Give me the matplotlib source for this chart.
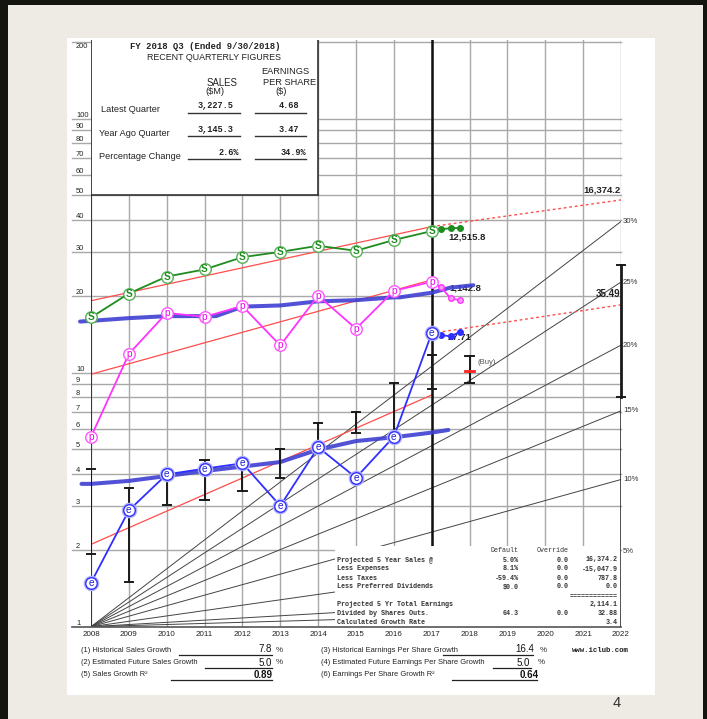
import matplotlib
matplotlib.use('Agg')
import matplotlib.pyplot as plt
from matplotlib.patches import Rectangle
from matplotlib.ticker import NullLocator

# ---------------- data ----------------
years = list(range(2008, 2018))
sales = [16.5, 20.5, 23.9, 25.5, 28.5, 29.9, 31.6, 30.2, 33.3, 36.1]
pretax = [5.59, 11.85, 17.2, 16.6, 18.3, 12.8, 20.1, 14.9, 21.0, 22.8]
eps = [1.49, 2.87, 3.98, 4.19, 4.40, 2.99, 5.09, 3.86, 5.6, 14.3]

q_x = [2017.25, 2017.5, 2017.75]
sales_q = [36.8, 37.0, 37.2]
pretax_q = [21.7, 19.6, 19.3]
eps_q = [14.07, 13.9, 14.5]

avg_hi_x = [2007.71, 2008, 2009, 2010, 2011.3, 2012, 2013, 2014, 2015, 2016, 2016.16, 2017, 2017.48, 2018.1]
avg_hi_y = [15.9, 16.0, 16.4, 16.7, 16.7, 18.2, 18.4, 19.1, 19.3, 19.8, 19.8, 20.65, 21.6, 22.1]
avg_lo_x = [2007.75, 2008, 2009, 2010, 2011, 2012, 2013, 2014, 2015, 2016, 2017, 2017.44]
avg_lo_y = [3.65, 3.65, 3.75, 3.92, 4.10, 4.27, 4.45, 4.98, 5.38, 5.57, 5.81, 5.95]

bar_years = list(range(2008, 2019))
price_hi = [4.18, 3.52, 4.05, 4.53, 4.55, 4.99, 6.36, 6.98, 9.13, 11.7, 11.67]
price_lo = [1.93, 1.50, 3.01, 3.15, 3.41, 3.84, 4.95, 5.80, 5.70, 8.6, 9.09]
current_price = 10.2
future_hi, future_lo = 26.5, 8.0

sales_trend = ([2008, 2017], [19.2, 37.6])
sales_proj = ([2017, 2022], [37.6, 47.9])
pretax_trend = ([2008, 2017], [9.86, 23.2])
eps_trend = ([2008, 2017], [2.11, 8.17])
eps_proj = ([2017, 2022], [14.3, 18.5])

fan_rates = [30, 25, 20, 15, 10, 5, 2, 1]
fan_labels = [30, 25, 20, 15, 10, 5]

ytick_vals = [1, 2, 3, 4, 5, 6, 7, 8, 9, 10, 20, 30, 40, 50, 60, 70, 80, 90, 100, 200]
xtick_vals = list(range(2008, 2023))

quarter_rows = [("Latest Quarter", "3,227.5", "4.68"),
                ("Year Ago Quarter", "3,145.3", "3.47"),
                ("Percentage Change", "2.6%", "34.9%")]

proj_rows = [("Projected 5 Year Sales @", "5.0%", "0.0", "16,374.2"),
             ("Less Expenses", "8.1%", "0.0", "-15,047.9"),
             ("Less Taxes", "-59.4%", "0.0", "787.8"),
             ("Less Preferred Dividends", "$0.0", "0.0", "0.0"),
             ("", "", "", "============"),
             ("Projected 5 Yr Total Earnings", "", "", "2,114.1"),
             ("Divided by Shares Outs.", "64.3", "0.0", "32.88"),
             ("Calculated Growth Rate", "", "", "3.4")]

# ---------------- fonts ----------------
SANS = ['Liberation Sans', 'DejaVu Sans']
MONO = ['Liberation Mono', 'DejaVu Sans Mono']

# ---------------- figure ----------------
W, H = 707, 719
fig = plt.figure(figsize=(W / 100, H / 100), dpi=100)
fig.patch.set_facecolor('#EEEBE4')


def rect(px0, py0, px1, py1, color):
    fig.patches.append(Rectangle((px0 / W, 1 - py1 / H), (px1 - px0) / W, (py1 - py0) / H,
                                 transform=fig.transFigure, facecolor=color,
                                 edgecolor='none', zorder=-1))


def ft(px, py, s, **kw):
    return fig.text(px / W, 1 - py / H, s, **kw)


rect(0, 0, W, 5, '#15150f')
rect(0, 0, 8, H, '#15150f')
rect(703, 0, W, H, '#15150f')
rect(67, 38, 655, 695, 'white')

Y0, PPD = 626.7, 254.0
PPY = 530 / 14
TOP = 10 ** ((Y0 - 40) / PPD)

ax = fig.add_axes([91 / W, 1 - Y0 / H, 530 / W, (Y0 - 40) / H])
ax.set_yscale('log')
ax.set_xlim(2008, 2022)
ax.set_ylim(1, TOP)
ax.patch.set_visible(False)
for s in ax.spines.values():
    s.set_visible(False)
ax.yaxis.set_major_locator(NullLocator())
ax.yaxis.set_minor_locator(NullLocator())
ax.set_xticks(xtick_vals, [str(v) for v in xtick_vals], fontfamily=SANS,
              fontsize=5.8, color='#222')
ax.tick_params(axis='x', length=0, pad=3)


def X(px):
    return 2008 + (px - 91) / PPY


def Yv(py):
    return 10 ** ((Y0 - py) / PPD)


GRID = '#a8a8a8'
for v in ytick_vals[1:]:
    ax.plot([X(72), 2022], [v, v], color=GRID, lw=1.0, zorder=1, clip_on=False)
ax.plot([X(72), 2022], [1, 1], color='#555', lw=1.2, zorder=8, clip_on=False)
for v in ytick_vals:
    if v == 200:
        ax.text(X(76), Yv(42.5), str(v), ha='left', va='top', fontsize=5.4,
                fontfamily=SANS, color='#222', clip_on=False)
    else:
        ax.text(X(76), v, str(v), ha='left', va='bottom', fontsize=5.4,
                fontfamily=SANS, color='#222', clip_on=False)
for yr in xtick_vals:
    ax.plot([yr, yr], [1, TOP], color=GRID, lw=1.0, zorder=1)
ax.plot([2008, 2008], [1, TOP], color='#222', lw=1.2, zorder=4.2)
ax.plot([2017, 2017], [Yv(546), TOP], color='#111', lw=1.8, zorder=3)

# fan lines
for r in fan_rates:
    ax.plot([2008, 2022], [1, (1 + r / 100) ** 14], color='#444', lw=0.7, zorder=2)
for r in fan_labels:
    ax.text(X(623), (1 + r / 100) ** 14, f"{r}%", ha='left', va='center',
            fontsize=5.6, fontfamily=SANS, color='#333', clip_on=False)

# red trend lines
RED = '#ff4d4d'
ax.plot(*sales_trend, color=RED, lw=0.9, zorder=2.5)
ax.plot(*pretax_trend, color=RED, lw=0.9, zorder=2.5)
ax.plot(*eps_trend, color=RED, lw=0.9, zorder=2.5)
ax.plot(*sales_proj, color=RED, lw=1.0, ls=(0, (2, 2)), zorder=2.5)
ax.plot(*eps_proj, color=RED, lw=1.0, ls=(0, (2, 2)), zorder=2.5)

# thick average lines
TB = '#3f3fd2'
ax.plot(avg_hi_x, avg_hi_y, color=TB, lw=2.9, alpha=0.9, zorder=3.5,
        solid_capstyle='round', clip_on=False)
ax.plot(avg_lo_x, avg_lo_y, color=TB, lw=2.9, alpha=0.9, zorder=3.5,
        solid_capstyle='round', clip_on=False)

# price bars
BK = '#1a1a1a'
cw = 0.11
for yr, hi, lo in zip(bar_years, price_hi, price_lo):
    ax.plot([yr, yr], [lo, hi], color=BK, lw=1.4, zorder=4.5)
    ax.plot([yr - cw, yr + cw], [hi, hi], color=BK, lw=1.4, zorder=4.5, clip_on=False)
    ax.plot([yr - cw, yr + cw], [lo, lo], color=BK, lw=1.4, zorder=4.5, clip_on=False)
ax.plot([2018 - 0.12, 2018 + 0.12], [current_price, current_price], color='#ff2020', lw=2, zorder=5)
ax.plot([2022, 2022], [1, future_lo], color='#222', lw=1.1, zorder=8)
ax.plot([2022, 2022], [future_lo, future_hi], color=BK, lw=2.0, zorder=8, clip_on=False)
for v in (future_lo, future_hi):
    ax.plot([2022 - cw, 2022 + cw], [v, v], color=BK, lw=1.4, zorder=8, clip_on=False)


def series(vals, qv, line_c, edge_c, letter, let_c, qfill, halo=None, bold=False):
    ax.plot(years, vals, color=line_c, lw=1.3, zorder=4)
    ax.plot([years[-1]] + q_x, [vals[-1]] + qv, color=line_c, lw=1.3, zorder=4,
            marker='o', ms=4, mfc=qfill, mec=line_c, mew=1, markevery=[1, 2, 3])
    if halo:
        ax.plot(years, vals, ls='none', marker='o', ms=9.6, mfc='white', mec=halo,
                mew=1.6, zorder=5, clip_on=False)
    ax.plot(years, vals, ls='none', marker='o', ms=8.3, mfc='white', mec=edge_c,
            mew=1.0, zorder=5, clip_on=False)
    for x, y in zip(years, vals):
        ax.text(x, y, letter, ha='center', va='center', fontsize=7.3, color=let_c,
                fontfamily=SANS, fontweight='bold' if bold else 'normal', zorder=6)


series(sales, sales_q, '#1e8c1e', '#55b055', 'S', '#1e8c1e', '#1e8c1e', bold=True)
series(pretax, pretax_q, '#ff33ff', '#ff55ff', 'p', '#f000f0', '#ff99ff')
series(eps, eps_q, '#2f2fff', '#3030ff', 'e', '#2020d0', '#2f2fff', halo='#b0b0ff')

# value labels
ax.text(X(448), Yv(237), "12,515.8", ha='left', va='center', fontsize=6.8,
        fontweight='bold', fontfamily=SANS, color='#222', zorder=3)
ax.text(X(449), Yv(288), "1,142.8", ha='left', va='center', fontsize=6.8,
        fontweight='bold', fontfamily=SANS, color='#222', zorder=3)
ax.text(X(448), Yv(338), "27.71", ha='left', va='center', fontsize=6.8,
        fontweight='bold', fontfamily=SANS, color='#222', zorder=3)
ax.text(X(620.5), Yv(190), "16,374.2", ha='right', va='center', fontsize=6.8,
        fontweight='bold', fontfamily=SANS, color='#222', zorder=9, clip_on=False)
ax.text(X(620.5), Yv(294), "35.49", ha='right', va='center', fontsize=7,
        fontweight='bold', fontfamily=SANS, color='#222', zorder=9, clip_on=False)
ax.text(X(477), Yv(362), "(Buy)", ha='left', va='center', fontsize=5.6,
        fontfamily=SANS, color='#555', zorder=6)

# ---------------- upper box ----------------
ax.add_patch(Rectangle((2008, 50), 6, TOP - 50, facecolor='white', edgecolor='none',
                       zorder=7, clip_on=False))
ax.plot([2008, 2014], [50, 50], color='#333', lw=1.2, zorder=7.5)
ax.plot([2014, 2014], [50, TOP], color='#333', lw=1.2, zorder=7.5)
ax.plot([2008, 2008], [50, TOP], color='#222', lw=1.2, zorder=7.5)

ft(205, 46.7, "FY 2018 Q3 (Ended 9/30/2018)", ha='center', va='center', fontsize=6.4,
   fontfamily=MONO, fontweight='bold', color='#222', zorder=10)
ft(214, 57.7, "RECENT QUARTERLY FIGURES", ha='center', va='center', fontsize=6.4,
   fontfamily=SANS, color='#222', zorder=10)
ft(285.5, 71.7, "EARNINGS", ha='center', va='center', fontsize=6.7, fontfamily=SANS, color='#222', zorder=10)
ft(290, 82.5, "PER SHARE", ha='center', va='center', fontsize=6.7, fontfamily=SANS, color='#222', zorder=10)
ft(281, 91.2, "($)", ha='center', va='center', fontsize=6.7, fontfamily=SANS, color='#222', zorder=10)
ft(221.7, 82.5, "SALES", ha='center', va='center', fontsize=6.9, fontfamily=SANS, color='#222', zorder=10)
ft(215, 91.2, "($M)", ha='center', va='center', fontsize=6.7, fontfamily=SANS, color='#222', zorder=10)

row_y = [109, 133.3, 156.7]
val_y = [105, 129, 152.3]
line_y = [112.7, 135.7, 159]
for (lab, sv, ev), ry, vy, ly in zip(quarter_rows, row_y, val_y, line_y):
    ft(101 if lab.startswith('L') else 99, ry, lab, ha='left', va='center', fontsize=6.6,
       fontfamily=SANS, color='#222', zorder=10)
    sx = 239 if sv.endswith('%') else 233.5
    ex = 306 if ev.endswith('%') else 299.5
    ft(sx, vy, sv, ha='right', va='center', fontsize=6.2, fontfamily=MONO,
       fontweight='bold', color='#222', zorder=10)
    ft(ex, vy, ev, ha='right', va='center', fontsize=6.2, fontfamily=MONO,
       fontweight='bold', color='#222', zorder=10)
    fig.lines.append(plt.Line2D([188 / W, 240 / W], [1 - ly / H] * 2, transform=fig.transFigure,
                                color='#333', lw=1.0, zorder=10))
    fig.lines.append(plt.Line2D([255 / W, 306 / W], [1 - ly / H] * 2, transform=fig.transFigure,
                                color='#333', lw=1.0, zorder=10))

# ---------------- lower box ----------------
ax.add_patch(Rectangle((X(335), 1), 2022 - X(335), Yv(546) - 1, facecolor='white',
                       edgecolor='none', zorder=7))
MS = 4.9
ft(518.7, 550.7, "Default", ha='right', va='center', fontsize=MS, fontfamily=MONO, color='#333', zorder=10)
ft(568.3, 550.7, "Override", ha='right', va='center', fontsize=MS, fontfamily=MONO, color='#333', zorder=10)
prow_y = [560, 569, 578, 587, 596, 604.7, 613.7, 623]
for (lab, d, o, v), y in zip(proj_rows, prow_y):
    kw = dict(va='center', fontsize=MS, fontfamily=MONO, fontweight='bold', color='#333', zorder=10)
    if lab:
        ft(336.7, y, lab, ha='left', **kw)
    if d:
        ft(518.7, y, d, ha='right', **kw)
    if o:
        ft(568.3, y, o, ha='right', **kw)
    ft(617.7, y, v, ha='right', **kw)

# ---------------- bottom stats ----------------
stats = [(81, 650, "(1) Historical Sales Growth", 178.6, 272.4, "7.8", 265.5, 279),
         (81, 663, "(2) Estimated Future Sales Growth", 205.4, 272.4, "5.0", 265.5, 279),
         (81, 675, "(5) Sales Growth R\u00b2", 171, 272.4, "0.89", 262.8, None),
         (321.4, 650, "(3) Historical Earnings Per Share Growth", 442.7, 532.6, "16.4", 525, 543),
         (321.4, 663, "(4) Estimated Future Earnings Per Share Growth", 492.5, 530.7, "5.0", 523, 541.4),
         (321.4, 675, "(6) Earnings Per Share Growth R\u00b2", 452, 536.5, "0.64", 528.8, None)]
for lx, y, lab, l0, l1, val, vx, px in stats:
    ft(lx, y, lab, ha='left', va='center', fontsize=5.4, fontfamily=SANS, color='#222')
    fig.lines.append(plt.Line2D([l0 / W, l1 / W], [1 - (y + 4.5) / H] * 2, transform=fig.transFigure,
                                color='#222', lw=0.9))
    ft(vx, y - 0.5, val, ha='center', va='center', fontsize=7.0, fontfamily=SANS,
       color='#111', fontweight='bold' if px is None else 'normal')
    if px is not None:
        ft(px, y, "%", ha='center', va='center', fontsize=5.8, fontfamily=SANS, color='#333')
ft(600.6, 650, "www.iclub.com", ha='center', va='center', fontsize=5.3, fontfamily=MONO,
   fontweight='bold', color='#222')

ft(617, 703, "4", ha='center', va='center', fontsize=10.5, fontfamily=SANS, color='#333')

fig.savefig('out.png', dpi=100, facecolor=fig.get_facecolor())
